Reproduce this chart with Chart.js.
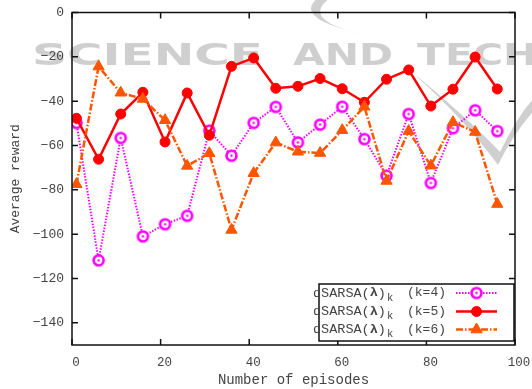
<!DOCTYPE html>
<html>
<head>
<meta charset="utf-8">
<script src="https://cdn.jsdelivr.net/npm/chart.js@4/dist/chart.umd.min.js"></script>
<style>body{margin:0;background:#fff}</style>
</head>
<body>
<canvas id="chart" width="532" height="389"></canvas>
<script>
// values
const episodes = [1, 6, 11, 16, 21, 26, 31, 36, 41, 46, 51, 56, 61, 66, 71, 76, 81, 86, 91, 96];
const rewardK4 = [-49.8, -111.8, -56.6, -101.0, -95.5, -91.7, -53.3, -64.6, -49.8, -42.6, -58.6, -50.6, -42.5, -57.1, -73.6, -45.8, -76.9, -52.2, -44.1, -53.5];
const rewardK5 = [-47.7, -66.2, -45.8, -36.0, -58.4, -36.3, -55.4, -24.3, -20.5, -34.2, -33.3, -29.8, -34.4, -40.5, -30.1, -25.9, -42.2, -34.6, -20.1, -34.5];
const rewardK6 = [-77.5, -24.4, -36.2, -39.0, -48.6, -69.2, -63.5, -98.1, -72.5, -58.7, -62.8, -63.4, -53.1, -42.5, -76.0, -53.5, -69.1, -49.5, -53.9, -86.4];
const kLabels = ['(k=4)', '(k=5)', '(k=6)'];
const xTicks = [0, 20, 40, 60, 80, 100];
const yTicks = [0, -20, -40, -60, -80, -100, -120, -140];

const MAGENTA = '#ff00ff';
const RED = '#ff0000';
const ORANGE = '#ff5500';
const FONT = '"Liberation Mono", "DejaVu Sans Mono", monospace';
const TXT = '#444';

// open circle with a dot in the middle (gnuplot style)
const ringDot = document.createElement('canvas');
ringDot.width = 15; ringDot.height = 15;
(function(){
  let c = ringDot.getContext('2d');
  c.beginPath(); c.arc(7.5, 7.5, 5, 0, Math.PI*2);
  c.fillStyle = '#fff'; c.fill();
  c.lineWidth = 2.6; c.strokeStyle = MAGENTA; c.stroke();
  c.beginPath(); c.arc(7.5, 7.5, 1.2, 0, Math.PI*2);
  c.fillStyle = MAGENTA; c.fill();
})();

const pts = ys => episodes.map((x, i) => ({x: x, y: ys[i]}));

const gnuplotBits = {
  id: 'gnuplotBits',
  beforeDraw(chart) {
    // faint publisher watermark behind the plot
    const ctx = chart.ctx;
    ctx.save();
    ctx.fillStyle = '#cfcfcf';
    ctx.strokeStyle = '#cfcfcf';
    ctx.font = 'bold 31px "DejaVu Sans"';
    ctx.textBaseline = 'alphabetic';
    ctx.textAlign = 'left';
    const words = [['SCIENCE', 32, 231], ['AND', 293, 100], ['TECHNOLOGY', 417, 0]];
    let sc = 1;
    words.forEach(w => {
      let m = ctx.measureText(w[0]).width;
      if (w[2]) sc = w[2] / m;
      ctx.save();
      ctx.translate(w[1], 65);
      ctx.scale(sc, 1);
      ctx.fillText(w[0], 0, 0);
      ctx.restore();
    });
    // swooshes of the logo
    ctx.beginPath();
    ctx.moveTo(318, -2);
    ctx.quadraticCurveTo(292, 18, 362, 34);
    ctx.quadraticCurveTo(300, 20, 330, -2);
    ctx.fill();
    ctx.beginPath();
    ctx.moveTo(412, 72);
    ctx.quadraticCurveTo(470, 120, 500, 152);
    ctx.quadraticCurveTo(520, 110, 540, 92);
    ctx.lineTo(540, 104);
    ctx.quadraticCurveTo(515, 130, 498, 165);
    ctx.quadraticCurveTo(465, 120, 412, 72);
    ctx.fill();
    ctx.restore();
  },
  afterDraw(chart) {
    const ctx = chart.ctx;
    const a = chart.chartArea;
    const xs = chart.scales.x, ys = chart.scales.y;
    ctx.save();
    ctx.strokeStyle = '#111';
    ctx.lineWidth = 1.5;
    ctx.strokeRect(a.left, a.top, a.right - a.left, a.bottom - a.top);
    ctx.beginPath();
    xTicks.forEach(v => {
      let px = xs.getPixelForValue(v);
      ctx.moveTo(px, a.bottom); ctx.lineTo(px, a.bottom - 6);
      ctx.moveTo(px, a.top); ctx.lineTo(px, a.top + 6);
    });
    yTicks.forEach(v => {
      let py = ys.getPixelForValue(v);
      ctx.moveTo(a.left, py); ctx.lineTo(a.left + 6, py);
      ctx.moveTo(a.right, py); ctx.lineTo(a.right - 6, py);
    });
    ctx.stroke();

    // key box, bottom right
    const bx = 319, by = 284, bw = 195, bh = 57;
    ctx.fillStyle = '#fff';
    ctx.fillRect(bx, by, bw, bh);
    ctx.strokeRect(bx, by, bw, bh);
    const rows = [293, 311.5, 329.5];
    const sets = chart.data.datasets;
    rows.forEach((ry, i) => {
      ctx.fillStyle = TXT;
      ctx.textBaseline = 'middle';
      ctx.textAlign = 'left';
      ctx.font = '13.5px ' + FONT;
      let x = 313;
      ctx.fillText('dSARSA(', x, ry);
      x += ctx.measureText('dSARSA(').width;
      ctx.font = 'bold 13.5px ' + FONT;
      ctx.fillText('λ', x, ry);
      x += ctx.measureText('λ').width;
      ctx.font = '13.5px ' + FONT;
      ctx.fillText(')', x, ry);
      x += ctx.measureText(')').width;
      ctx.font = '10.5px ' + FONT;
      ctx.fillText('k', x + 1, ry + 5);
      ctx.font = '13px ' + FONT;
      ctx.fillText(kLabels[i], 407, ry);

      let d = sets[i];
      ctx.strokeStyle = d.borderColor;
      ctx.fillStyle = d.backgroundColor || d.borderColor;
      ctx.lineWidth = d.borderWidth;
      ctx.setLineDash(d.borderDash || []);
      ctx.beginPath(); ctx.moveTo(456, ry); ctx.lineTo(497, ry); ctx.stroke();
      ctx.setLineDash([]);
      ctx.lineWidth = 1;
      Chart.helpers.drawPoint(ctx, {
        pointStyle: d.pointStyle, radius: d.pointRadius, borderWidth: 1, rotation: 0
      }, 476.5, ry);
    });
    ctx.restore();
  }
};

new Chart(document.getElementById('chart'), {
  type: 'line',
  data: {
    datasets: [
      {
        label: 'k=4', data: pts(rewardK4), order: 2,
        borderColor: MAGENTA, borderWidth: 2, borderDash: [1.5, 1.5],
        pointStyle: ringDot, pointRadius: 5, tension: 0
      },
      {
        label: 'k=5', data: pts(rewardK5), order: 1,
        borderColor: RED, backgroundColor: RED, borderWidth: 2.5,
        pointStyle: 'circle', pointRadius: 5, pointBorderWidth: 1, tension: 0
      },
      {
        label: 'k=6', data: pts(rewardK6), order: 0,
        borderColor: ORANGE, backgroundColor: ORANGE, borderWidth: 2.5, borderDash: [7, 2, 1.5, 2],
        pointStyle: 'triangle', pointRadius: 6.5, pointBorderWidth: 1, tension: 0
      }
    ]
  },
  options: {
    responsive: false,
    animation: false,
    devicePixelRatio: 1,
    layout: {padding: {top: 12.5, right: 17, left: 0, bottom: 0}},
    plugins: {legend: {display: false}, tooltip: {enabled: false}},
    scales: {
      x: {
        type: 'linear', min: 0, max: 100,
        afterFit: s => { s.height = 44; },
        afterBuildTicks: s => { s.ticks = xTicks.map(v => ({value: v})); },
        grid: {display: false}, border: {display: false},
        ticks: {color: TXT, font: {family: FONT, size: 12.5}, padding: 2, labelOffset: 4},
        title: {display: true, text: 'Number of episodes', color: TXT, font: {family: FONT, size: 14}, padding: {top: 0, bottom: 0}}
      },
      y: {
        min: -150, max: 0,
        afterFit: s => { s.width = 72; },
        afterBuildTicks: s => { s.ticks = yTicks.map(v => ({value: v})); },
        grid: {display: false}, border: {display: false},
        ticks: {color: TXT, font: {family: FONT, size: 13}, padding: 0,
          callback: v => String(v).replace('-', '\u2212')},
        title: {display: true, text: 'Average reward', color: TXT, font: {family: FONT, size: 13}, padding: {top: 8, bottom: 0}}
      }
    }
  },
  plugins: [gnuplotBits]
});
</script>
</body>
</html>
